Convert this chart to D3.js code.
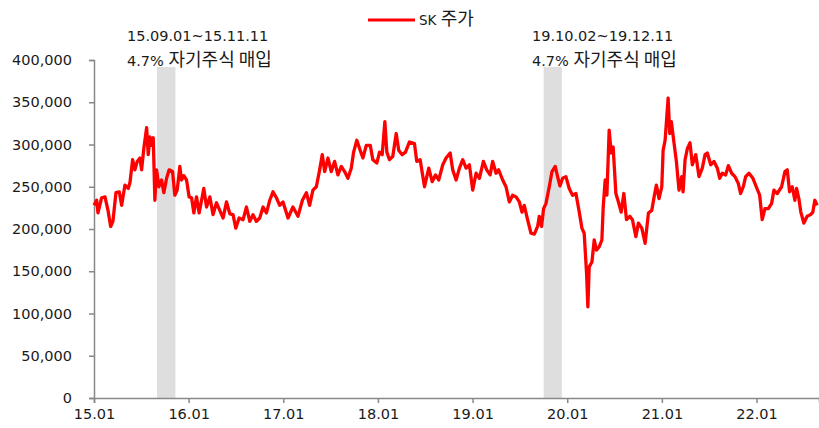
<!DOCTYPE html>
<meta charset="utf-8">
<style>
body { margin: 0; background: #fff; }
svg { font-family: "DejaVu Sans", "Noto Sans CJK KR", sans-serif; }
.axis path, .axis line { stroke: #888; stroke-width: 1.5; }
.axis text { font-size: 14.5px; fill: #1a1a1a; font-family: "DejaVu Sans", sans-serif; }
.note { font-size: 14.5px; fill: #1a1a1a; }
.ko { font-family: "Noto Sans CJK KR", sans-serif; font-size: 18px; }
</style>
<body>
<script src="https://d3js.org/d3.v7.min.js"></script>
<script>
// SK 주가 (decimal year, price in won)
const years = [
  2015.000, 2015.028, 2015.042, 2015.081, 2015.116, 2015.148, 2015.176, 2015.200, 2015.232, 2015.267,
  2015.292, 2015.327, 2015.362, 2015.380, 2015.408, 2015.432, 2015.457, 2015.485, 2015.503, 2015.527,
  2015.556, 2015.573, 2015.591, 2015.609, 2015.626, 2015.643, 2015.661, 2015.686, 2015.714, 2015.738,
  2015.767, 2015.794, 2015.830, 2015.854, 2015.879, 2015.907, 2015.925, 2015.949, 2015.978, 2016.005,
  2016.031, 2016.055, 2016.083, 2016.111, 2016.160, 2016.189, 2016.224, 2016.258, 2016.294, 2016.329,
  2016.364, 2016.400, 2016.435, 2016.469, 2016.498, 2016.533, 2016.575, 2016.611, 2016.646, 2016.680,
  2016.716, 2016.751, 2016.786, 2016.822, 2016.857, 2016.891, 2016.927, 2016.962, 2016.997, 2017.050,
  2017.102, 2017.155, 2017.202, 2017.244, 2017.278, 2017.313, 2017.349, 2017.384, 2017.412, 2017.437,
  2017.472, 2017.507, 2017.542, 2017.577, 2017.613, 2017.648, 2017.683, 2017.718, 2017.743, 2017.777,
  2017.813, 2017.841, 2017.877, 2017.919, 2017.946, 2017.988, 2018.017, 2018.045, 2018.073, 2018.094,
  2018.122, 2018.157, 2018.193, 2018.220, 2018.256, 2018.291, 2018.333, 2018.386, 2018.410, 2018.446,
  2018.492, 2018.537, 2018.573, 2018.608, 2018.642, 2018.685, 2018.720, 2018.763, 2018.790, 2018.826,
  2018.861, 2018.896, 2018.931, 2018.966, 2019.001, 2019.037, 2019.072, 2019.114, 2019.149, 2019.185,
  2019.212, 2019.248, 2019.275, 2019.318, 2019.353, 2019.388, 2019.423, 2019.459, 2019.494, 2019.522,
  2019.546, 2019.581, 2019.617, 2019.652, 2019.687, 2019.705, 2019.729, 2019.750, 2019.775, 2019.810,
  2019.839, 2019.873, 2019.898, 2019.923, 2019.951, 2019.986, 2020.021, 2020.056, 2020.092, 2020.127,
  2020.155, 2020.179, 2020.204, 2020.218, 2020.232, 2020.261, 2020.285, 2020.309, 2020.338, 2020.366,
  2020.380, 2020.401, 2020.419, 2020.443, 2020.464, 2020.485, 2020.514, 2020.541, 2020.570, 2020.598,
  2020.626, 2020.661, 2020.689, 2020.725, 2020.752, 2020.788, 2020.823, 2020.858, 2020.893, 2020.918,
  2020.942, 2020.970, 2020.999, 2021.013, 2021.034, 2021.052, 2021.066, 2021.083, 2021.100, 2021.129,
  2021.153, 2021.181, 2021.210, 2021.224, 2021.245, 2021.269, 2021.297, 2021.322, 2021.358, 2021.392,
  2021.427, 2021.456, 2021.480, 2021.516, 2021.551, 2021.586, 2021.611, 2021.638, 2021.674, 2021.702,
  2021.737, 2021.772, 2021.807, 2021.832, 2021.860, 2021.885, 2021.920, 2021.962, 2021.997, 2022.033,
  2022.060, 2022.089, 2022.123, 2022.159, 2022.184, 2022.219, 2022.265, 2022.300, 2022.325, 2022.349,
  2022.377, 2022.405, 2022.423, 2022.447, 2022.468, 2022.500, 2022.535, 2022.571, 2022.595, 2022.616,
  2022.640
];
const prices = [
  228, 234, 219, 237, 238, 222, 203, 209, 243, 244,
  228, 252, 248, 255, 282, 270, 280, 284, 270, 296,
  320, 288, 309, 299, 308, 234, 270, 250, 258, 243,
  260, 270, 268, 240, 246, 274, 258, 263, 258, 238,
  237, 219, 238, 219, 248, 226, 238, 217, 231, 222,
  213, 232, 218, 217, 201, 213, 211, 226, 209, 217,
  209, 213, 226, 219, 234, 244, 237, 228, 232, 213,
  226, 215, 234, 243, 228, 246, 250, 270, 288, 268,
  284, 268, 280, 264, 274, 268, 260, 272, 291, 305,
  293, 284, 299, 299, 282, 278, 291, 288, 327, 291,
  282, 286, 313, 293, 288, 291, 303, 301, 280, 282,
  250, 272, 256, 264, 258, 276, 284, 290, 270, 258,
  272, 282, 272, 276, 246, 266, 260, 280, 270, 264,
  280, 266, 270, 258, 250, 232, 240, 238, 232, 220,
  228, 211, 195, 194, 203, 215, 203, 224, 230, 250,
  268, 274, 262, 251, 260, 262, 248, 240, 242, 220,
  201, 195, 148, 108, 155, 161, 187, 175, 179, 187,
  226, 258, 240, 317, 290, 297, 242, 232, 220, 242,
  211, 215, 211, 191, 207, 201, 183, 219, 222, 238,
  252, 236, 250, 293, 305, 333, 355, 313, 327, 301,
  280, 246, 262, 244, 282, 295, 302, 276, 288, 262,
  272, 288, 290, 276, 280, 272, 260, 266, 264, 275,
  266, 262, 254, 242, 250, 262, 266, 260, 250, 240,
  211, 224, 224, 230, 246, 242, 250, 268, 270, 244,
  250, 234, 248, 236, 220, 207, 215, 217, 220, 234,
  228
].map(v => v * 1000);

const yTicks = [0, 50000, 100000, 150000, 200000, 250000, 300000, 350000, 400000];
const xTicks = [2015, 2016, 2017, 2018, 2019, 2020, 2021, 2022];

// 자기주식 매입 기간
const bandStarts = ["15.09.01", "19.10.02"];
const bandEnds = ["15.11.11", "19.12.11"];
const notePct = "4.7%";
const noteText = "자기주식 매입";
const seriesCode = "SK";
const seriesText = "주가";

const W = 819, H = 428,
      mLeft = 94, mRight = 819, mTop = 60, mBottom = 398;

const parse = d3.timeParse("%y.%m.%d");
function toYear(s) {
  const d = parse(s), yr = d.getFullYear();
  const y0 = new Date(yr, 0, 1), y1 = new Date(yr + 1, 0, 1);
  return yr + (d - y0) / (y1 - y0);
}

const x = d3.scaleLinear().domain([2015, 2022.66]).range([mLeft, mRight]);
const y = d3.scaleLinear().domain([0, 400000]).range([mBottom, mTop]);

const svg = d3.select("body").append("svg")
    .attr("width", W)
    .attr("height", H);

// shaded periods
svg.selectAll(".band")
    .data(bandStarts)
  .enter().append("rect")
    .attr("class", "band")
    .attr("x", d => x(toYear(d)))
    .attr("width", (d, i) => x(toYear(bandEnds[i])) - x(toYear(d)))
    .attr("y", y(400000))
    .attr("height", y(0) - y(400000))
    .attr("fill", "#dedede");

// axes
svg.append("g")
    .attr("class", "axis")
    .attr("transform", "translate(" + mLeft + ",0)")
    .call(d3.axisLeft(y).tickValues(yTicks).tickFormat(d3.format(",")).tickSizeOuter(0).tickSize(5).tickPadding(17));

svg.append("g")
    .attr("class", "axis")
    .attr("transform", "translate(0," + mBottom + ")")
    .call(d3.axisBottom(x).tickValues(xTicks)
      .tickFormat(d => String(d).slice(2) + ".01")
      .tickSizeOuter(0).tickSize(5).tickPadding(6));

// line
const line = d3.line()
    .x((d, i) => x(years[i]))
    .y(d => y(d));

svg.append("path")
    .datum(prices)
    .attr("fill", "none")
    .attr("stroke", "#ff0000")
    .attr("stroke-width", 3.3)
    .attr("stroke-linejoin", "round")
    .attr("d", line);

// annotation boxes
const noteX = [127, 532];
bandStarts.forEach(function(s, i) {
  svg.append("rect")
      .attr("x", noteX[i] - 2).attr("y", 46)
      .attr("width", 165).attr("height", 21)
      .attr("fill", "#fff");
  svg.append("text")
      .attr("class", "note")
      .attr("x", noteX[i]).attr("y", 41)
      .text(s + "~" + bandEnds[i]);
  const t = svg.append("text")
      .attr("class", "note")
      .attr("x", noteX[i]).attr("y", 66);
  t.append("tspan").text(notePct + " ");
  t.append("tspan").attr("class", "ko").text(noteText);
});

// legend
svg.append("line")
    .attr("x1", 368).attr("x2", 415)
    .attr("y1", 20).attr("y2", 20)
    .attr("stroke", "#ff0000")
    .attr("stroke-width", 3);
const lg = svg.append("text")
    .attr("class", "note")
    .attr("x", 419).attr("y", 25);
lg.append("tspan").style("font-size", "13.5px").text(seriesCode + " ");
lg.append("tspan").attr("class", "ko").text(seriesText);
</script>
</body>
